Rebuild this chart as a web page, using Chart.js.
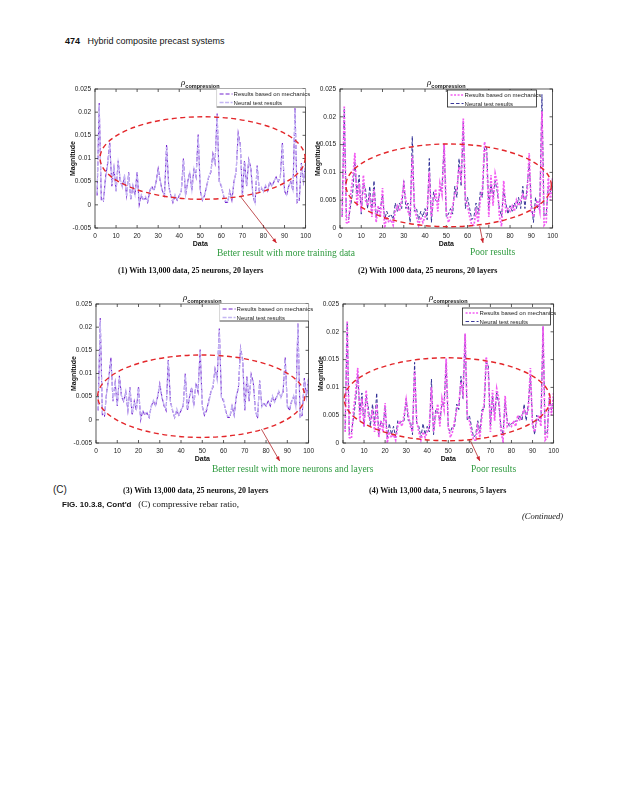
<!DOCTYPE html>
<html>
<head>
<meta charset="utf-8">
<script src="https://cdn.jsdelivr.net/npm/chart.js@4/dist/chart.umd.min.js"></script>
<style>
  body { margin: 0; background: #fff; }
  #page { position: relative; width: 625px; height: 800px; overflow: hidden; font-family: 'Liberation Sans', Arial, sans-serif; }
  .abs { position: absolute; white-space: nowrap; }
  canvas.plot { position: absolute; }
  .serif { font-family: 'Liberation Serif', 'Times New Roman', serif; }
  .cap { font-family: 'Liberation Serif', serif; font-weight: bold; font-size: 8px; color: #111; }
  .note { font-family: 'Liberation Serif', serif; font-size: 9.5px; color: #2e9a3e; }
</style>
</head>
<body>
<div id="page">
  <div class="abs" style="left:65px; top:36px; font-size:9px; color:#111;"><b>474</b>&nbsp;&nbsp; Hybrid composite precast systems</div>

  <canvas id="c1" class="plot" style="left:55px; top:72px;" width="260" height="190"></canvas>
  <canvas id="c2" class="plot" style="left:300px; top:72px;" width="262" height="190"></canvas>
  <canvas id="c3" class="plot" style="left:56px; top:287px;" width="262" height="190"></canvas>
  <canvas id="c4" class="plot" style="left:303px; top:287px;" width="260" height="190"></canvas>

  <div class="abs note" style="left:217px; top:248px;">Better result with more training data</div>
  <div class="abs note" style="left:470px; top:247px;">Poor results</div>
  <div class="abs cap" style="left:118px; top:266px;">(1) With 13,000 data, 25 neurons, 20 layers</div>
  <div class="abs cap" style="left:358px; top:266px;">(2) With 1000 data, 25 neurons, 20 layers</div>

  <div class="abs note" style="left:212px; top:464px;">Better result with more neurons and layers</div>
  <div class="abs note" style="left:471px; top:464px;">Poor results</div>
  <div class="abs" style="left:53px; top:484px; font-size:10px; color:#222;">(C)</div>
  <div class="abs cap" style="left:123px; top:486px;">(3) With 13,000 data, 25 neurons, 20 layers</div>
  <div class="abs cap" style="left:369px; top:486px;">(4) With 13,000 data, 5 neurons, 5 layers</div>

  <div class="abs" style="left:62px; top:499px; font-size:8px; color:#111;"><b>FIG. 10.3.8, Cont'd</b>&nbsp;&nbsp; <span class="serif" style="font-size:9px;">(C) compressive rebar ratio,</span></div>
  <div class="abs serif" style="left:522px; top:511px; font-size:8.5px; font-style:italic; color:#111;">(Continued)</div>
</div>

<script>
// sample index on the x axis (1..100)
const samples = [
  1,2,3,4,5,6,7,8,9,10,11,12,13,14,15,16,17,18,19,20,
  21,22,23,24,25,26,27,28,29,30,31,32,33,34,35,36,37,38,39,40,
  41,42,43,44,45,46,47,48,49,50,51,52,53,54,55,56,57,58,59,60,
  61,62,63,64,65,66,67,68,69,70,71,72,73,74,75,76,77,78,79,80,
  81,82,83,84,85,86,87,88,89,90,91,92,93,94,95,96,97,98,99,100
];

const mechanics = [
  0.002,0.022,0.001,0.0008,0.006,0.009,0.0135,0.004,0.008,0.003,
  0.0095,0.005,0.004,0.006,0.002,0.007,0.001,0.004,0.002,0.0072,
  0.0,0.002,0.001,0.0015,0.0005,0.003,0.004,0.003,0.005,0.0078,
  0.005,0.003,0.002,0.013,0.004,0.002,0.0005,0.002,0.001,0.002,
  0.003,0.010,0.002,0.005,0.007,0.003,0.008,0.006,0.0152,0.003,
  0.001,0.002,0.004,0.006,0.007,0.011,0.009,0.0197,0.005,0.004,
  0.002,0.0005,0.0005,0.003,0.001,0.005,0.007,0.0155,0.013,0.002,
  0.0095,0.004,0.0098,0.008,0.002,0.0003,0.0085,0.003,0.0035,0.003,
  0.004,0.003,0.005,0.004,0.005,0.006,0.005,0.006,0.0135,0.003,
  0.002,0.004,0.005,0.003,0.021,0.0005,0.001,0.009,0.005,0.009
];

// (1) 13,000 data, 25 neurons, 20 layers
const neural1 = [
  0.0025,0.0215,0.0015,0.001,0.0055,0.0085,0.013,0.0045,0.0085,0.0028,
  0.009,0.0055,0.0038,0.0065,0.0018,0.0068,0.0012,0.0042,0.0022,0.007,
  0.0003,0.0022,0.0012,0.0018,0.0008,0.0032,0.0038,0.0033,0.0048,0.0075,
  0.0052,0.0028,0.0022,0.0125,0.0042,0.0018,0.0008,0.0022,0.0012,0.0018,
  0.0032,0.0097,0.0022,0.0048,0.0068,0.0032,0.0078,0.0062,0.0148,0.0032,
  0.0012,0.0022,0.0038,0.0062,0.0072,0.0105,0.0088,0.0192,0.0052,0.0042,
  0.0022,0.0008,0.0007,0.0028,0.0012,0.0048,0.0072,0.015,0.0128,0.0022,
  0.0092,0.0042,0.0095,0.0078,0.0022,0.0005,0.0082,0.0032,0.0038,0.0028,
  0.0042,0.0032,0.0048,0.0042,0.0052,0.0058,0.0052,0.0058,0.013,0.0032,
  0.0022,0.0042,0.0048,0.0032,0.0205,0.0008,0.0012,0.0088,0.0052,0.0088
];

// (2) 1000 data, 25 neurons, 20 layers
const neural2 = [
  0.002,0.0215,0.002,0.0015,0.004,0.0065,0.012,0.006,0.0095,0.0025,
  0.008,0.007,0.0035,0.0075,0.003,0.0085,0.002,0.0035,0.0035,0.006,
  0.0015,0.003,0.002,0.0025,0.0015,0.0045,0.003,0.0045,0.0035,0.0085,
  0.0035,0.0045,0.001,0.0165,0.003,0.0035,0.0015,0.003,0.002,0.0035,
  0.0015,0.0125,0.001,0.0065,0.005,0.0045,0.0065,0.0075,0.015,0.002,
  0.0025,0.0035,0.0025,0.0075,0.0055,0.0125,0.0075,0.019,0.0035,0.0055,
  0.0035,0.0015,0.002,0.0045,0.0025,0.0065,0.0055,0.0145,0.0145,0.0035,
  0.008,0.0055,0.0085,0.0065,0.0035,0.002,0.007,0.0045,0.0025,0.004,
  0.003,0.0045,0.0035,0.0055,0.0035,0.0075,0.0035,0.0075,0.0115,0.0045,
  0.001,0.0055,0.0035,0.0045,0.024,0.002,0.0025,0.0075,0.0065,0.0075
];

// (3) 13,000 data, 25 neurons, 20 layers
const neural3 = [
  0.0022,0.0212,0.0012,0.0012,0.0058,0.0088,0.0128,0.0042,0.0082,0.0032,
  0.0092,0.0052,0.0042,0.0062,0.0022,0.0068,0.0014,0.0038,0.0024,0.0068,
  0.0004,0.0018,0.0014,0.0016,0.0007,0.0028,0.0042,0.0031,0.0052,0.0074,
  0.0048,0.0032,0.0024,0.0127,0.0038,0.0022,0.0006,0.0024,0.0011,0.0022,
  0.0028,0.0096,0.0024,0.0052,0.0066,0.0034,0.0076,0.0064,0.0149,0.0028,
  0.0014,0.0024,0.0036,0.0058,0.0074,0.0107,0.0086,0.0194,0.0048,0.0044,
  0.0018,0.0007,0.0008,0.0032,0.0011,0.0052,0.0068,0.0152,0.0126,0.0024,
  0.0091,0.0044,0.0094,0.0082,0.0018,0.0006,0.0083,0.0028,0.0036,0.0032,
  0.0038,0.0034,0.0052,0.0038,0.0048,0.0062,0.0048,0.0062,0.0131,0.0028,
  0.0024,0.0038,0.0052,0.0028,0.0207,0.0007,0.0014,0.0086,0.0048,0.0091
];

// (4) 13,000 data, 5 neurons, 5 layers
const neural4 = [
  0.0025,0.0215,0.0015,0.002,0.0045,0.0075,0.0125,0.0055,0.009,0.003,
  0.0085,0.0065,0.003,0.007,0.0035,0.009,0.0015,0.004,0.003,0.0065,
  0.001,0.0035,0.0015,0.003,0.001,0.004,0.0035,0.004,0.004,0.008,
  0.004,0.004,0.0015,0.0145,0.0035,0.003,0.001,0.0035,0.0015,0.003,
  0.002,0.0115,0.0015,0.006,0.0055,0.004,0.007,0.007,0.0145,0.0025,
  0.002,0.003,0.003,0.007,0.006,0.012,0.008,0.0195,0.004,0.005,
  0.003,0.001,0.0015,0.004,0.002,0.006,0.006,0.0145,0.014,0.003,
  0.0085,0.005,0.009,0.007,0.003,0.0015,0.0075,0.004,0.003,0.0035,
  0.0035,0.004,0.004,0.005,0.004,0.007,0.004,0.007,0.012,0.004,
  0.0015,0.005,0.004,0.004,0.021,0.0015,0.002,0.008,0.006,0.008
];

const xTicks = [0, 10, 20, 30, 40, 50, 60, 70, 80, 90, 100];
const yTicksSigned = [-0.005, 0, 0.005, 0.01, 0.015, 0.02, 0.025];
const yTicksPositive = [0, 0.005, 0.01, 0.015, 0.02, 0.025];
const legendLabels = ['Results based on mechanics', 'Neural test results'];

const FONT = "'Liberation Sans', Arial, sans-serif";

function pts(values) {
  return values.map((v, i) => ({ x: samples[i], y: v }));
}

// MATLAB-looking box with inward ticks on all four sides
const boxPlugin = {
  id: 'matlabBox',
  afterDatasetsDraw(chart) {
    const { ctx, chartArea: a, scales: { x, y } } = chart;
    ctx.save();
    ctx.strokeStyle = '#333';
    ctx.lineWidth = 0.8;
    ctx.strokeRect(a.left, a.top, a.right - a.left, a.bottom - a.top);
    ctx.beginPath();
    x.ticks.forEach((t) => {
      const px = x.getPixelForValue(t.value);
      ctx.moveTo(px, a.bottom); ctx.lineTo(px, a.bottom - 3);
      ctx.moveTo(px, a.top); ctx.lineTo(px, a.top + 3);
    });
    y.ticks.forEach((t) => {
      const py = y.getPixelForValue(t.value);
      ctx.moveTo(a.left, py); ctx.lineTo(a.left + 3, py);
      ctx.moveTo(a.right, py); ctx.lineTo(a.right - 3, py);
    });
    ctx.stroke();
    ctx.restore();
  }
};

// red dashed ellipse, arrow, title and inner legend
const notesPlugin = {
  id: 'notes',
  afterDraw(chart, args, o) {
    const { ctx, chartArea: a, scales: { x, y } } = chart;
    ctx.save();

    // title: rho with bold subscript
    const cx = (a.left + a.right) / 2;
    ctx.fillStyle = '#111';
    ctx.textBaseline = 'alphabetic';
    ctx.font = `italic 9px 'Liberation Serif', serif`;
    const rw = ctx.measureText('ρ').width;
    ctx.font = `bold 5.5px ${FONT}`;
    const sw = ctx.measureText('compression').width;
    const tx = cx - (rw + sw) / 2;
    ctx.font = `italic 9px 'Liberation Serif', serif`;
    ctx.fillText('ρ', tx, a.top - 4);
    ctx.font = `bold 5.5px ${FONT}`;
    ctx.fillText('compression', tx + rw, a.top - 1.5);

    // ellipse
    const e = o.ellipse;
    const ex = x.getPixelForValue(e.cx), ey = y.getPixelForValue(e.cy);
    const erx = Math.abs(x.getPixelForValue(e.cx + e.rx) - ex);
    const ery = Math.abs(y.getPixelForValue(e.cy + e.ry) - ey);
    ctx.strokeStyle = '#e3262a';
    ctx.lineWidth = 1.4;
    ctx.setLineDash([5, 3.5]);
    ctx.beginPath();
    ctx.ellipse(ex, ey, erx, ery, 0, 0, Math.PI * 2);
    ctx.stroke();
    ctx.setLineDash([]);

    // arrow to the comment below the axis
    const ar = o.arrow;
    const x0 = x.getPixelForValue(ar.fromX), y0 = y.getPixelForValue(ar.fromY);
    const x1 = x.getPixelForValue(ar.toX), y1 = a.bottom + ar.below;
    ctx.strokeStyle = '#b3262a';
    ctx.fillStyle = '#d0202a';
    ctx.lineWidth = 0.8;
    ctx.beginPath(); ctx.moveTo(x0, y0); ctx.lineTo(x1, y1); ctx.stroke();
    const ang = Math.atan2(y1 - y0, x1 - x0);
    ctx.beginPath();
    ctx.moveTo(x1, y1);
    ctx.lineTo(x1 - 5 * Math.cos(ang - 0.4), y1 - 5 * Math.sin(ang - 0.4));
    ctx.lineTo(x1 - 5 * Math.cos(ang + 0.4), y1 - 5 * Math.sin(ang + 0.4));
    ctx.closePath(); ctx.fill();

    // legend box
    const L = o.legend;
    const lx = a.right - L.right - L.w, ly = a.top + L.top;
    ctx.fillStyle = '#fff';
    ctx.fillRect(lx, ly, L.w, L.h);
    ctx.strokeStyle = '#222';
    ctx.lineWidth = 0.8;
    if (L.full) {
      ctx.strokeRect(lx, ly, L.w, L.h);
    } else {
      ctx.beginPath(); ctx.moveTo(lx, ly + L.h); ctx.lineTo(lx + L.w, ly + L.h); ctx.stroke();
      ctx.strokeStyle = '#ccc';
      ctx.beginPath(); ctx.moveTo(lx, ly); ctx.lineTo(lx, ly + L.h); ctx.stroke();
    }
    o.legendOrder.forEach((di, row) => {
      const ds = chart.data.datasets[di];
      const yy = ly + 5 + row * 8.5;
      ctx.strokeStyle = ds.borderColor;
      ctx.lineWidth = ds.borderWidth;
      ctx.setLineDash(ds.borderDash);
      ctx.beginPath(); ctx.moveTo(lx + 3, yy); ctx.lineTo(lx + 16, yy); ctx.stroke();
      ctx.setLineDash([]);
      ctx.fillStyle = '#222';
      ctx.font = `6px ${FONT}`;
      ctx.textBaseline = 'middle';
      ctx.fillText(ds.label, lx + 17, yy + 0.5);
    });
    ctx.restore();
  }
};

function makeChart(id, neural, cfg) {
  const lightStyle = cfg.style === 'light';
  const mech = {
    label: legendLabels[0],
    data: pts(mechanics),
    borderColor: lightStyle ? '#7322cf' : '#f25cf2',
    borderWidth: lightStyle ? 1.1 : 1.7,
    borderDash: lightStyle ? [4, 2] : [2, 1.5]
  };
  const nn = {
    label: legendLabels[1],
    data: pts(neural),
    borderColor: lightStyle ? '#c4b6f3' : '#24238f',
    borderWidth: lightStyle ? 1.3 : 0.9,
    borderDash: lightStyle ? [4, 1.5] : [3.5, 2]
  };
  // light style: neural drawn underneath, mechanics on top
  const datasets = lightStyle ? [nn, mech] : [mech, nn];
  const legendOrder = lightStyle ? [1, 0] : [0, 1];
  const yTickList = cfg.yTicks;

  return new Chart(document.getElementById(id), {
    type: 'line',
    data: { datasets: datasets.map((d) => ({ ...d, pointRadius: 0, fill: false, tension: 0 })) },
    options: {
      responsive: false,
      animation: false,
      events: [],
      layout: { padding: { top: 17, right: cfg.padRight, bottom: 14, left: 0 } },
      plugins: {
        legend: { display: false },
        tooltip: { enabled: false },
        notes: { ellipse: cfg.ellipse, arrow: cfg.arrow, legend: cfg.legend, legendOrder }
      },
      scales: {
        x: {
          type: 'linear',
          min: xTicks[0],
          max: xTicks[xTicks.length - 1],
          afterFit: (s) => { s.height = 20; },
          afterBuildTicks: (s) => { s.ticks = xTicks.map((v) => ({ value: v })); },
          grid: { display: false, drawTicks: false, tickLength: 0 },
          border: { display: false },
          ticks: { font: { family: FONT, size: 6.5 }, color: '#222', padding: 4, maxRotation: 0 },
          title: { display: true, text: 'Data', font: { family: FONT, size: 7, weight: 'bold' }, color: '#111', padding: { top: 1, bottom: 0 } }
        },
        y: {
          min: yTickList[0],
          max: yTickList[yTickList.length - 1],
          afterFit: (s) => { s.width = 40; },
          afterBuildTicks: (s) => { s.ticks = yTickList.map((v) => ({ value: v })); },
          grid: { display: false, drawTicks: false, tickLength: 0 },
          border: { display: false },
          ticks: {
            font: { family: FONT, size: 6.5 }, color: '#222', padding: 4,
            callback: (v) => String(+v.toFixed(3))
          },
          title: { display: true, text: 'Magnitude', font: { family: FONT, size: 7, weight: 'bold' }, color: '#111', padding: { top: 14, bottom: 0 } }
        }
      }
    },
    plugins: [boxPlugin, notesPlugin]
  });
}

makeChart('c1', neural1, {
  style: 'light', yTicks: yTicksSigned, padRight: 8,
  ellipse: { cx: 51.1, cy: 0.0101, rx: 48.7, ry: 0.0089 },
  arrow: { fromX: 68.9, fromY: 0.0019, toX: 86.2, below: 15 },
  legend: { w: 89, h: 18, top: 0, right: 0, full: false }
});
makeChart('c2', neural2, {
  style: 'dark', yTicks: yTicksPositive, padRight: 9,
  ellipse: { cx: 51.1, cy: 0.00767, rx: 48.3, ry: 0.00744 },
  arrow: { fromX: 65.7, fromY: 0.0003, toX: 67.3, below: 15 },
  legend: { w: 89, h: 17, top: 1, right: 16, full: true }
});
makeChart('c3', neural3, {
  style: 'light', yTicks: yTicksSigned, padRight: 9,
  ellipse: { cx: 49.5, cy: 0.0051, rx: 48.7, ry: 0.0089 },
  arrow: { fromX: 77.8, fromY: -0.002, toX: 86.4, below: 18 },
  legend: { w: 89, h: 17, top: 0, right: 0, full: false }
});
makeChart('c4', neural4, {
  style: 'dark', yTicks: yTicksPositive, padRight: 9,
  ellipse: { cx: 49.5, cy: 0.00787, rx: 48.9, ry: 0.00746 },
  arrow: { fromX: 60.5, fromY: 0.0004, toX: 65, below: 18 },
  legend: { w: 88, h: 17, top: 4, right: 3, full: true }
});
</script>
</body>
</html>
